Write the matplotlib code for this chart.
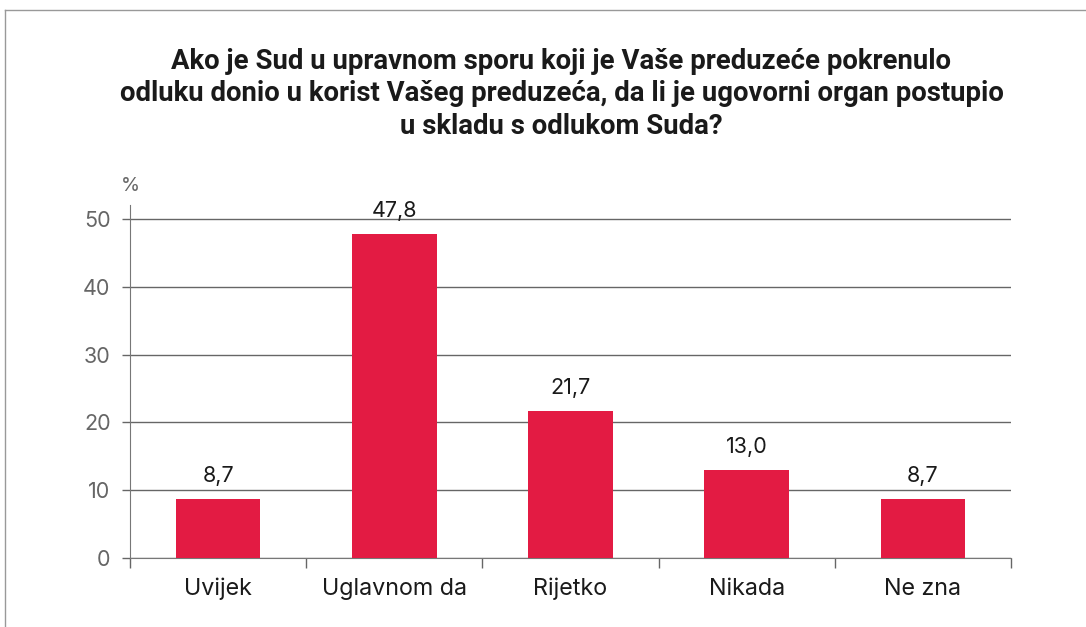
import matplotlib
matplotlib.use("Agg")
import matplotlib.pyplot as plt
from matplotlib.lines import Line2D
import numpy as np

categories = ["Uvijek", "Uglavnom da", "Rijetko", "Nikada", "Ne zna"]
values = [8.7, 47.8, 21.7, 13.0, 8.7]
yticks = [0, 10, 20, 30, 40, 50]
title = ("Ako je Sud u upravnom sporu koji je Vaše preduzeće pokrenulo\n"
         "odluku donio u korist Vašeg preduzeća, da li je ugovorni organ postupio\n"
         "u skladu s odlukom Suda?")

plt.rcParams["font.family"] = ["Inter", "DejaVu Sans"]

fig = plt.figure(figsize=(10.86, 6.27), dpi=100)
ax = fig.add_axes([0.1197, 0.110, 0.8112, 0.5624])

x = np.arange(len(categories))
ax.bar(x, values, width=0.48, color="#E31B43", zorder=3)
for xi, v in zip(x, values):
    ax.text(xi, v + 3.4, f"{v:.1f}".replace(".", ","), ha="center", va="center",
            fontsize=15.5, color="#1a1a1a")

ax.set_xlim(-0.5, len(categories) - 0.5)
ax.set_ylim(0, 52)
ax.set_yticks(yticks)
ax.set_yticklabels([str(t) for t in yticks], fontsize=15.5, color="#666666")
ax.yaxis.grid(True, color="#666666", linewidth=1, zorder=0)
ax.tick_params(axis="y", length=6, width=1, color="#666666", pad=8)

# category labels centered, ticks between categories
ax.set_xticks(np.arange(len(categories) + 1) - 0.5)
ax.set_xticklabels([])
ax.tick_params(axis="x", length=7, width=1, color="#666666")
for xi, c in zip(x, categories):
    ax.text(xi, -4.6, c, ha="center", va="center", fontsize=16.8, color="#1a1a1a")

for s in ["top", "right"]:
    ax.spines[s].set_visible(False)
ax.spines["left"].set_color("#777777")
ax.spines["bottom"].set_color("#777777")

ax.text(0, 1.055, "%", transform=ax.transAxes, ha="center", va="center",
        fontsize=14, color="#666666")

fig.text(0.517, 0.924, title, ha="center", va="top", fontsize=19.8,
         fontweight="bold", family=["Roboto", "DejaVu Sans"],
         linespacing=1.26, color="#1a1a1a")

# outer frame lines (top and left)
fig.add_artist(Line2D([0.0046, 1.0], [0.984, 0.984], transform=fig.transFigure,
                      color="#999999", linewidth=1))
fig.add_artist(Line2D([0.0046, 0.0046], [0.0, 0.984], transform=fig.transFigure,
                      color="#999999", linewidth=1))

fig.savefig("out.png", dpi=100)
